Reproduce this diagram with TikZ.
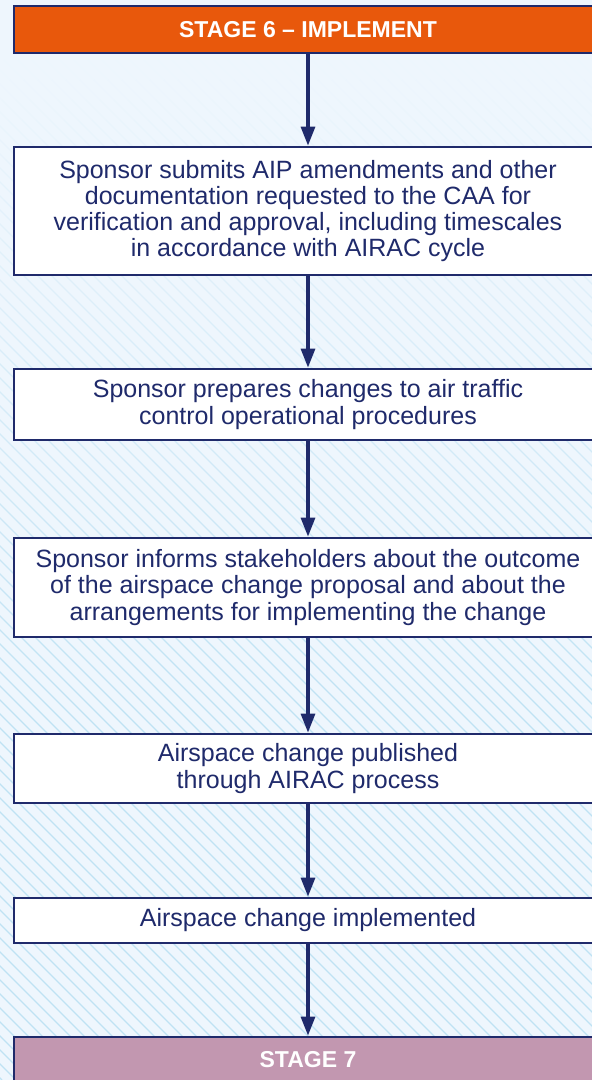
\documentclass[tikz,border=0pt]{standalone}
\usepackage{fontspec}
\setmainfont{Liberation Sans}
\usetikzlibrary{arrows.meta}
\definecolor{bg}{HTML}{EEF6FD}
\definecolor{hatch}{HTML}{BFE2F3}
\definecolor{navy}{HTML}{1F2A6B}
\definecolor{stageorange}{HTML}{E8580C}
\definecolor{stagemauve}{HTML}{C297B0}
\begin{document}
\begin{tikzpicture}[x=1pt,y=-1pt,
  stepbox/.style={draw=navy, line width=2.8pt, fill=white, text=navy, minimum width=588pt, align=center, font=\fontsize{25}{26.3}\selectfont, inner sep=0pt},
  stagebox/.style={draw=navy, line width=2.8pt, text=white, minimum width=588pt, font=\bfseries\fontsize{23}{24}\selectfont, inner sep=0pt},
  flow/.style={draw=navy, line width=3.2pt, -{Triangle[length=19pt,width=14pt]}}]
\useasboundingbox (0,0) rectangle (592,1080);
\clip (0,0) rectangle (592,1080);
\fill[bg] (0,0) rectangle (592,1080);
\foreach \k in {0,...,53}{
  \pgfmathsetmacro\yA{20*\k}
  \pgfmathsetmacro\yB{20*\k+20}
  \pgfmathtruncatemacro\f{max(0,min(100,(20*\k+10-60)/6.4))}
  \foreach \c in {-1092,-1078,...,606}{
    \draw[hatch!\f!bg, line width=1.1pt] (\c+\yA,\yA) -- (\c+\yB,\yB);
  }
}
\node[stagebox, fill=stageorange, minimum height=47pt] (s6) at (308,29.5) {STAGE 6 – IMPLEMENT};
\node[stepbox, minimum height=128pt] (b1) at (308,211) {Sponsor submits AIP amendments and other\\documentation requested to the CAA for\\verification and approval, including timescales\\in accordance with AIRAC cycle};
\node[stepbox, minimum height=71pt] (b2) at (308,404.5) {Sponsor prepares changes to air traffic\\control operational procedures};
\node[stepbox, minimum height=99pt] (b3) at (308,587.5) {Sponsor informs stakeholders about the outcome\\of the airspace change proposal and about the\\arrangements for implementing the change};
\node[stepbox, minimum height=69pt] (b4) at (308,768.5) {Airspace change published\\through AIRAC process};
\node[stepbox, minimum height=45pt] (b5) at (308,920.5) {Airspace change implemented};
\node[stagebox, fill=stagemauve, minimum height=46pt] (s7) at (308,1060) {STAGE 7};
\draw[flow] (s6) -- (b1);
\draw[flow] (b1) -- (b2);
\draw[flow] (b2) -- (b3);
\draw[flow] (b3) -- (b4);
\draw[flow] (b4) -- (b5);
\draw[flow] (b5) -- (s7);
\end{tikzpicture}
\end{document}
